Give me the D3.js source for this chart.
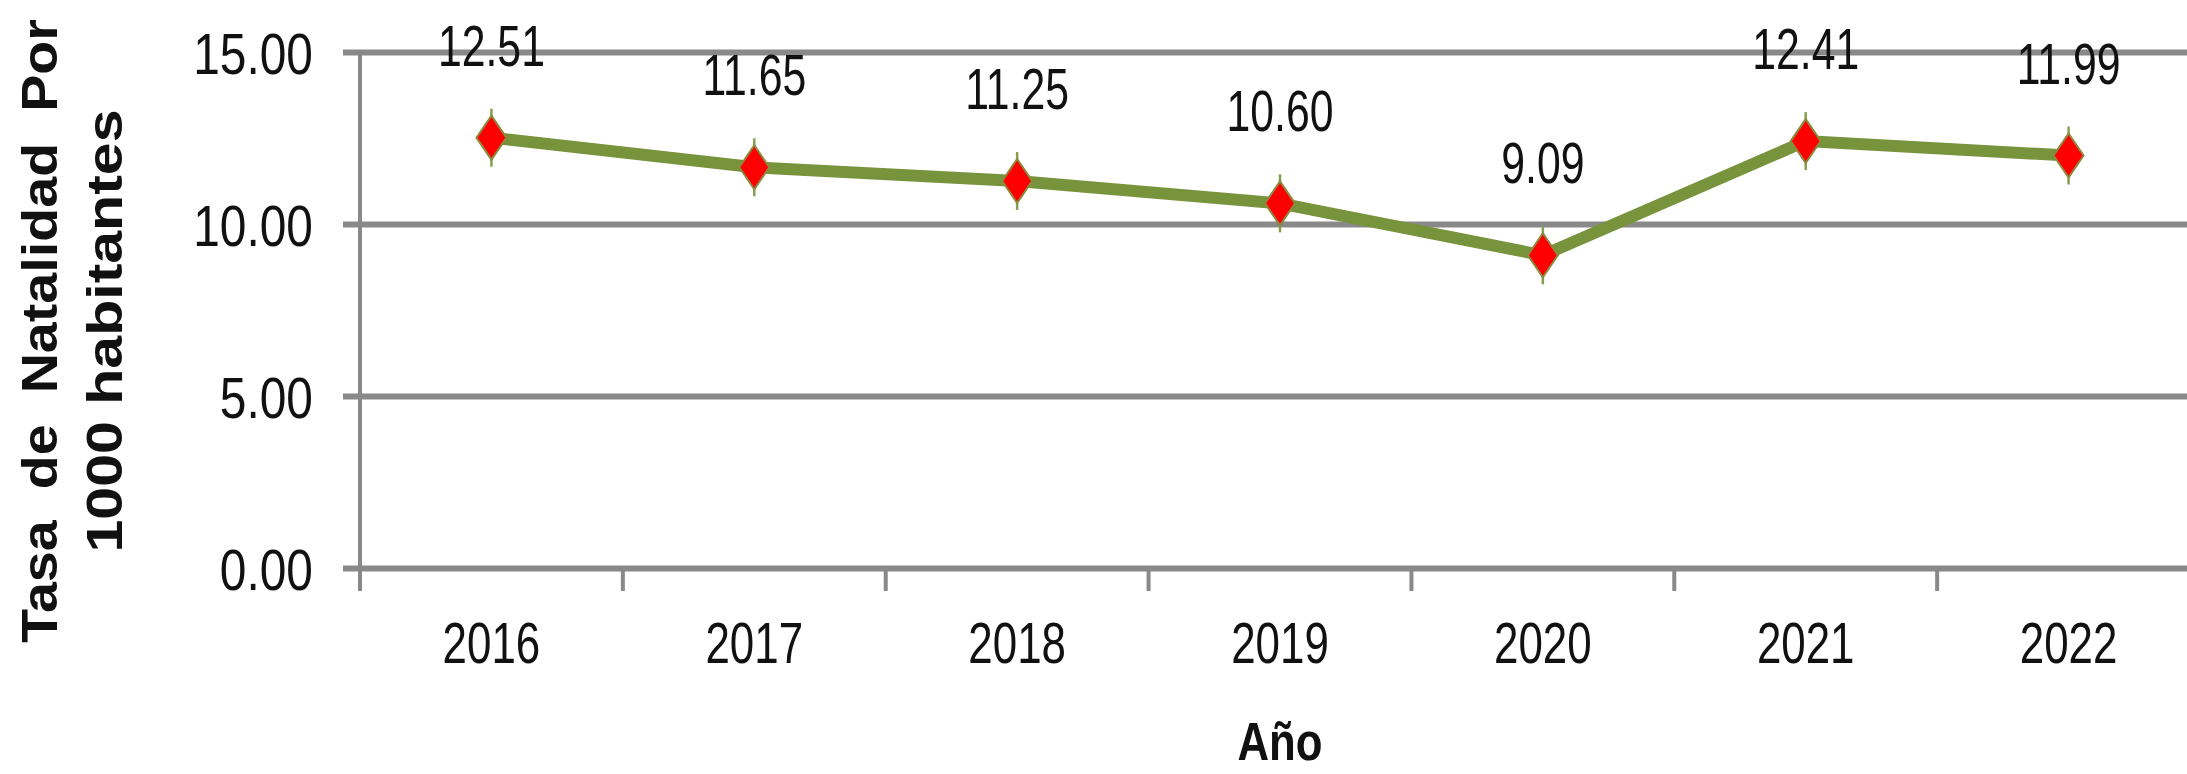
<!DOCTYPE html>
<html>
<head>
<meta charset="utf-8">
<script src="https://cdn.jsdelivr.net/npm/d3@7"></script>
<style>
  html, body { margin: 0; padding: 0; background: #fff; overflow: hidden; }
  svg { display: block; }
  text { font-family: "Liberation Sans", Arial, sans-serif; fill: #111; }
</style>
</head>
<body>
<script>
// ---- data ----
const years = ["2016", "2017", "2018", "2019", "2020", "2021", "2022"];
const rates = [12.51, 11.65, 11.25, 10.60, 9.09, 12.41, 11.99];
const yTicks = [0, 5, 10, 15];
const yTitleLines = ["Tasa  de  Natalidad  Por", "1000 habitantes"];
const xTitle = "Año";

// ---- layout ----
const W = 2187, H = 774;
const plot = { left: 360, right: 2200, top: 52, bottom: 568 };
const gridColor = "#898989";
const lineColor = "#77933C";

const svg = d3.select("body").append("svg")
  .attr("width", W).attr("height", H)
  .attr("viewBox", `0 0 ${W} ${H}`);
svg.append("rect").attr("width", W).attr("height", H).attr("fill", "#fff");

const x = d3.scaleBand().domain(years).range([plot.left, plot.right]).padding(0);
const y = d3.scaleLinear().domain([0, 15]).range([plot.bottom, plot.top]);

// ---- y axis with gridlines ----
const yAxis = d3.axisLeft(y).tickValues(yTicks).tickFormat(d3.format(".2f")).tickSize(17);
const gy = svg.append("g").attr("transform", `translate(${plot.left},0)`).call(yAxis);
gy.select(".domain").remove();
gy.selectAll(".tick line")
  .attr("x1", -17).attr("x2", plot.right - plot.left)
  .attr("stroke", gridColor).attr("stroke-width", 6);
gy.selectAll(".tick text")
  .attr("x", 0).attr("dy", 0)
  .attr("transform", "translate(-47,21) scale(0.84,1)")
  .attr("text-anchor", "end")
  .style("font-size", "57px").style("fill", "#111");

// vertical axis line
svg.append("line")
  .attr("x1", plot.left).attr("x2", plot.left)
  .attr("y1", y(15) - 1).attr("y2", plot.bottom + 23)
  .attr("stroke", gridColor).attr("stroke-width", 4);

// ---- x axis labels and category-boundary ticks ----
const xAxis = d3.axisBottom(x).tickSize(0);
const gx = svg.append("g").attr("transform", `translate(0,${plot.bottom})`).call(xAxis);
gx.select(".domain").remove();
gx.selectAll(".tick text")
  .attr("y", 0).attr("dy", 0)
  .attr("transform", "translate(0,95) scale(0.77,1)")
  .style("font-size", "57px").style("fill", "#111");

svg.append("g").selectAll("line")
  .data(years.slice(1))
  .join("line")
  .attr("x1", d => x(d)).attr("x2", d => x(d))
  .attr("y1", plot.bottom).attr("y2", plot.bottom + 23)
  .attr("stroke", gridColor).attr("stroke-width", 4);

// ---- series line ----
const pts = years.map((yr, i) => ({ yr, v: rates[i] }));
const cx = d => x(d.yr) + x.bandwidth() / 2;
svg.append("path")
  .datum(pts)
  .attr("d", d3.line().x(cx).y(d => y(d.v)))
  .attr("fill", "none")
  .attr("stroke", lineColor)
  .attr("stroke-width", 12)
  .attr("stroke-linejoin", "miter");

// ---- markers ----
const hw = 15, hh = 22;
const diamond = `M0,${-hh}L${hw},0L0,${hh}L${-hw},0Z`;
const mk = svg.append("g").selectAll("g").data(pts).join("g")
  .attr("transform", d => `translate(${cx(d)},${y(d.v)})`);
mk.append("line")
  .attr("x1", 0).attr("x2", 0).attr("y1", -29).attr("y2", 29)
  .attr("stroke", "#86a050").attr("stroke-width", 2.5);
mk.append("path")
  .attr("d", diamond)
  .attr("fill", "#ff0000")
  .attr("stroke", "#8c8a3c")
  .attr("stroke-width", 2);

// ---- data labels ----
svg.append("g").selectAll("text").data(pts).join("text")
  .attr("transform", d => `translate(${cx(d)},${y(d.v) - 72}) scale(0.75,1)`)
  .attr("text-anchor", "middle")
  .style("font-size", "57px")
  .text(d => d.v.toFixed(2));

// ---- axis titles ----
const yTitleX = [57, 122];
const yTitleLen = [624, 443];
yTitleLines.forEach((t, i) => {
  svg.append("text")
    .attr("transform", `translate(${yTitleX[i]},331) rotate(-90)`)
    .attr("text-anchor", "middle")
    .attr("textLength", yTitleLen[i])
    .attr("lengthAdjust", "spacingAndGlyphs")
    .style("font-size", "50px")
    .style("font-weight", "bold")
    .style("white-space", "pre")
    .text(t);
});

svg.append("text")
  .attr("transform", `translate(${(plot.left + plot.right) / 2},760) scale(0.81,1)`)
  .attr("text-anchor", "middle")
  .style("font-size", "54px")
  .style("font-weight", "bold")
  .text(xTitle);
</script>
</body>
</html>
